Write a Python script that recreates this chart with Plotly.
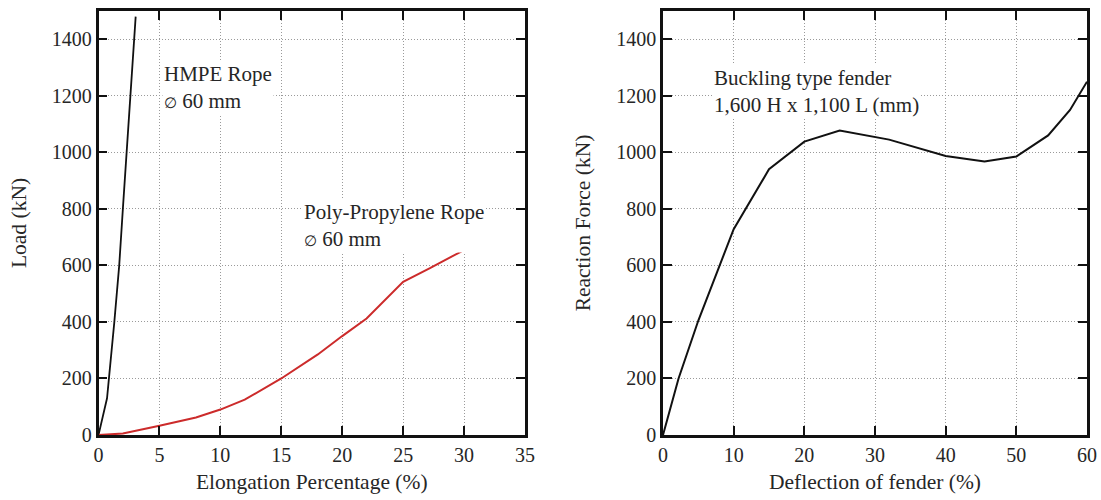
import plotly.graph_objects as go

# Left panel data: Load (kN) vs Elongation (%)
hmpe_x = [0, 0.7, 1.3, 1.7, 2.0, 2.3, 2.6, 3.05]
hmpe_y = [0, 130, 400, 600, 800, 1000, 1200, 1480]

pp_x = [0, 2, 5, 6, 8, 10, 12, 15, 18, 20, 22, 25, 27.2, 29.8]
pp_y = [0, 5, 33, 42, 62, 90, 125, 200, 285, 350, 412, 542, 590, 650]

# Right panel data: Reaction force (kN) vs Deflection (%)
fender_x = [0, 2.2, 5, 10, 15, 20, 25, 32, 40, 45.5, 50, 54.5, 57.6, 60]
fender_y = [0, 200, 405, 728, 940, 1038, 1077, 1045, 987, 968, 985, 1060, 1150, 1250]

y_ticks = [0, 200, 400, 600, 800, 1000, 1200, 1400]
left_x_ticks = [0, 5, 10, 15, 20, 25, 30, 35]
right_x_ticks = [0, 10, 20, 30, 40, 50, 60]

FONT = "Liberation Serif, Times New Roman, serif"
TXT = "#262626"

fig = go.Figure()
fig.add_trace(go.Scatter(x=hmpe_x, y=hmpe_y, mode="lines",
                         line=dict(color="#111111", width=1.8), xaxis="x", yaxis="y",
                         showlegend=False))
fig.add_trace(go.Scatter(x=pp_x, y=pp_y, mode="lines",
                         line=dict(color="#cc2b2b", width=2), xaxis="x", yaxis="y",
                         showlegend=False))
fig.add_trace(go.Scatter(x=fender_x, y=fender_y, mode="lines",
                         line=dict(color="#111111", width=2), xaxis="x2", yaxis="y2",
                         showlegend=False))

axis_common = dict(
    showline=True, linecolor="#111111", linewidth=2.5, mirror="ticks",
    ticks="inside", ticklen=9, tickwidth=2, tickcolor="#111111",
    showgrid=True, gridcolor="#9a9a9a", gridwidth=1, griddash="1px,2px",
    zeroline=False, automargin=False,
    tickfont=dict(family=FONT, size=20, color=TXT),
)

ydom = [1 - 435 / 500, 1 - 11 / 500]
TFS = 21.5

fig.update_layout(
    width=1101, height=500,
    margin=dict(l=0, r=0, t=0, b=0),
    paper_bgcolor="white", plot_bgcolor="white",
    font=dict(family=FONT, color=TXT),
    xaxis=dict(domain=[98.5 / 1101, 525 / 1101], range=[0, 35], tickvals=left_x_ticks,
               title=dict(text="Elongation Percentage (%)", font=dict(family=FONT, size=TFS, color=TXT), standoff=10),
               anchor="y", **axis_common),
    yaxis=dict(domain=ydom, range=[0, 1500], tickvals=y_ticks,
               title=dict(text="Load (kN)", font=dict(family=FONT, size=TFS, color=TXT), standoff=20),
               anchor="x", **axis_common),
    xaxis2=dict(domain=[663 / 1101, 1087 / 1101], range=[0, 60], tickvals=right_x_ticks,
                title=dict(text="Deflection of fender (%)", font=dict(family=FONT, size=TFS, color=TXT), standoff=10),
                anchor="y2", **axis_common),
    yaxis2=dict(domain=ydom, range=[0, 1500], tickvals=y_ticks,
                title=dict(text="Reaction Force (kN)", font=dict(family=FONT, size=TFS, color=TXT), standoff=20),
                anchor="x2", **axis_common),
)

dia = "<span style='font-size:15px'>∅</span> 60 mm"
AFS = 21
fig.add_annotation(x=5.2, y=1228, xref="x", yref="y", text="HMPE Rope<br>" + dia,
                   showarrow=False, xanchor="left", yanchor="middle", align="left",
                   font=dict(family=FONT, size=AFS, color=TXT), bgcolor="white")
fig.add_annotation(x=16.7, y=741, xref="x", yref="y", text="Poly-Propylene Rope<br>" + dia,
                   showarrow=False, xanchor="left", yanchor="middle", align="left",
                   font=dict(family=FONT, size=AFS, color=TXT), bgcolor="white")
fig.add_annotation(x=7.0, y=1216, xref="x2", yref="y2", text="Buckling type fender<br>1,600 H x 1,100 L (mm)",
                   showarrow=False, xanchor="left", yanchor="middle", align="left",
                   font=dict(family=FONT, size=AFS, color=TXT), bgcolor="white")

fig.write_html("out.html")
